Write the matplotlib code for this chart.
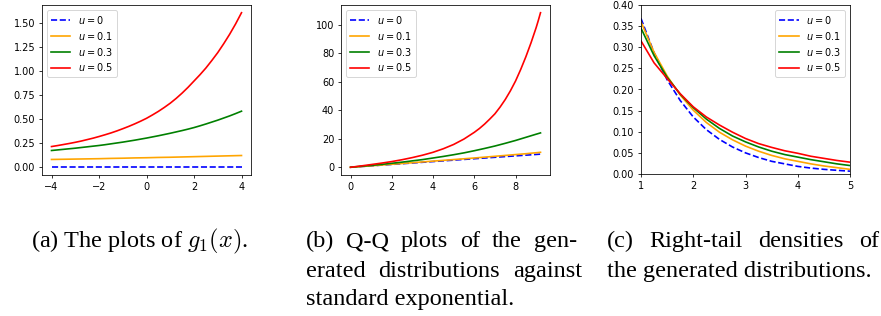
import matplotlib
matplotlib.use("Agg")
import matplotlib.pyplot as plt

# ---------------- data ----------------
labels = ["$u = 0$", "$u = 0.1$", "$u = 0.3$", "$u = 0.5$"]
colors = ["blue", "orange", "green", "red"]
styles = ["--", "-", "-", "-"]

# (a) g1(x)
x_a_coarse = [-4, -3.5, -3, -2.5, -2, -1.5, -1, -0.5, 0, 0.5, 1, 1.5, 2, 2.5, 3, 3.5, 4]
g_u0 = [0, 0, 0, 0, 0, 0, 0, 0, 0, 0, 0, 0, 0, 0, 0, 0, 0]
g_u01 = [0.081, 0.083, 0.085, 0.087, 0.089, 0.092, 0.094, 0.097, 0.099,
         0.102, 0.104, 0.107, 0.110, 0.113, 0.116, 0.119, 0.122]
x_a_fine = [-4, -3.75, -3.5, -3.25, -3, -2.75, -2.5, -2.25, -2, -1.75, -1.5, -1.25,
            -1, -0.75, -0.5, -0.25, 0, 0.25, 0.5, 0.75, 1, 1.25, 1.5, 1.75,
            2, 2.25, 2.5, 2.75, 3, 3.25, 3.5, 3.75, 4]
g_u03 = [0.174, 0.180, 0.186, 0.192, 0.198, 0.205, 0.212, 0.219, 0.226, 0.234,
         0.243, 0.252, 0.261, 0.271, 0.281, 0.292, 0.303, 0.315, 0.327, 0.340,
         0.353, 0.367, 0.381, 0.396, 0.412, 0.430, 0.449, 0.469, 0.489, 0.511,
         0.533, 0.557, 0.582]
g_u05 = [0.215, 0.225, 0.236, 0.247, 0.259, 0.272, 0.287, 0.302, 0.319, 0.337,
         0.356, 0.377, 0.400, 0.424, 0.450, 0.478, 0.508, 0.543, 0.580, 0.621,
         0.665, 0.715, 0.770, 0.830, 0.895, 0.960, 1.030, 1.108, 1.190, 1.282,
         1.380, 1.487, 1.604]

# (b) Q-Q plot: theoretical exponential quantiles vs generated quantiles
q_theory = [0, 0.5, 1, 1.5, 2, 2.5, 3, 3.5, 4, 4.5, 5, 5.5, 6, 6.5, 7, 7.5, 8, 8.5, 9, 9.21]
q_u0 = [0, 0.5, 1, 1.5, 2, 2.5, 3, 3.5, 4, 4.5, 5, 5.5, 6, 6.5, 7, 7.5, 8, 8.5, 9, 9.21]
q_u01 = [0, 0.5, 1.02, 1.55, 2.1, 2.65, 3.2, 3.75, 4.3, 4.85, 5.4, 5.95, 6.5,
         7.1, 7.7, 8.3, 8.9, 9.5, 10.2, 10.5]
q_u03 = [0, 0.65, 1.3, 2.0, 2.8, 3.6, 4.5, 5.4, 6.5, 7.6, 8.8, 10.1, 11.6,
         13.2, 14.9, 16.8, 18.8, 21.0, 23.2, 24.1]
q_theory_fine = [0, 0.5, 1, 1.5, 2, 2.5, 3, 3.5, 4, 4.5, 5, 5.5, 6, 6.25, 6.5, 6.75,
                 7, 7.25, 7.5, 7.75, 8, 8.25, 8.5, 8.75, 9, 9.1, 9.21]
q_u05 = [0, 0.9, 1.9, 2.9, 4.0, 5.3, 6.8, 8.5, 10.5, 13.0, 16.0, 19.8, 24.5, 27.2,
         30.3, 33.8, 37.5, 42.2, 47.5, 53.6, 60.5, 68.6, 77.5, 87.3, 98.0, 102.8, 108.4]

# (c) right-tail densities
x_c = [1, 1.25, 1.5, 1.75, 2, 2.25, 2.5, 2.75, 3, 3.25, 3.5, 3.75, 4, 4.25, 4.5, 4.75, 5]
d_u0 = [0.368, 0.287, 0.223, 0.174, 0.135, 0.105, 0.082, 0.064, 0.050,
        0.039, 0.030, 0.024, 0.018, 0.014, 0.011, 0.0087, 0.0067]
d_u01 = [0.360, 0.288, 0.232, 0.187, 0.151, 0.122, 0.099, 0.081, 0.066,
         0.054, 0.044, 0.036, 0.030, 0.024, 0.019, 0.015, 0.011]
d_u03 = [0.345, 0.280, 0.229, 0.189, 0.157, 0.130, 0.108, 0.090, 0.076,
         0.064, 0.054, 0.046, 0.040, 0.034, 0.029, 0.024, 0.020]
d_u05 = [0.315, 0.263, 0.226, 0.190, 0.159, 0.135, 0.116, 0.099, 0.084,
         0.072, 0.063, 0.055, 0.049, 0.042, 0.037, 0.032, 0.028]

caption_a = "(a) The plots of $g_1(x)$."
caption_b = [["(b)", "Q-Q", "plots", "of", "the", "gen-"],
             ["erated", "distributions", "against"],
             "standard exponential."]
caption_c = [["(c)", "Right-tail", "densities", "of"],
             "the generated distributions."]

# ---------------- figure ----------------
plt.rcParams["lines.linewidth"] = 1.7
W, H = 881, 316
DPI = 70
fig = plt.figure(figsize=((W + 0.01) / DPI, (H + 0.01) / DPI), dpi=DPI)

def px_axes(left, right, top, bottom):
    return fig.add_axes([left / W, 1 - bottom / H, (right - left) / W, (bottom - top) / H])

ax_a = px_axes(42, 251, 5, 175)
ax_b = px_axes(341, 550, 5, 175)
ax_c = px_axes(641, 850, 5, 174)

leg_kw = dict(labelspacing=0.4)

series_a = [(x_a_coarse, g_u0), (x_a_coarse, g_u01), (x_a_fine, g_u03), (x_a_fine, g_u05)]
for (xs, ys), lab, c, ls in zip(series_a, labels, colors, styles):
    ax_a.plot(xs, ys, ls, color=c, label=lab)
ax_a.legend(loc="upper left", **leg_kw)

series_b = [(q_theory, q_u0), (q_theory, q_u01), (q_theory, q_u03), (q_theory_fine, q_u05)]
for (xs, ys), lab, c, ls in zip(series_b, labels, colors, styles):
    ax_b.plot(xs, ys, ls, color=c, label=lab)
ax_b.legend(loc="upper left", **leg_kw)

for ys, lab, c, ls in zip([d_u0, d_u01, d_u03, d_u05], labels, colors, styles):
    ax_c.plot(x_c, ys, ls, color=c, label=lab)
ax_c.set_xlim(1, 5)
ax_c.set_ylim(0, 0.4)
ax_c.legend(loc="upper right", **leg_kw)

# ---------------- captions ----------------
CAP_FS = 25
cap_kw = dict(family="Liberation Serif", fontsize=CAP_FS, va="baseline", ha="left")
renderer = fig.canvas.get_renderer()

def justified(words, x0, x1, y):
    texts = [fig.text(0, 0, w, **cap_kw) for w in words]
    widths = [t.get_window_extent(renderer).width for t in texts]
    gap = (x1 - x0 - sum(widths)) / (len(words) - 1)
    x = x0
    for t, w in zip(texts, widths):
        t.set_position((x / W, 1 - y / H))
        x += w + gap

def plain(s, x0, y, **kw):
    fig.text(x0 / W, 1 - y / H, s, **cap_kw, **kw)

base1, base2, base3 = 247.3, 276.7, 305.2
plain(caption_a, 31, base1, math_fontfamily="cm")
justified(caption_b[0], 306, 577, base1)
justified(caption_b[1], 306, 582, base2)
plain(caption_b[2], 306, base3)
justified(caption_c[0], 607, 879, base1)
plain(caption_c[1], 607, base2)

fig.savefig("out.png", dpi=DPI)
